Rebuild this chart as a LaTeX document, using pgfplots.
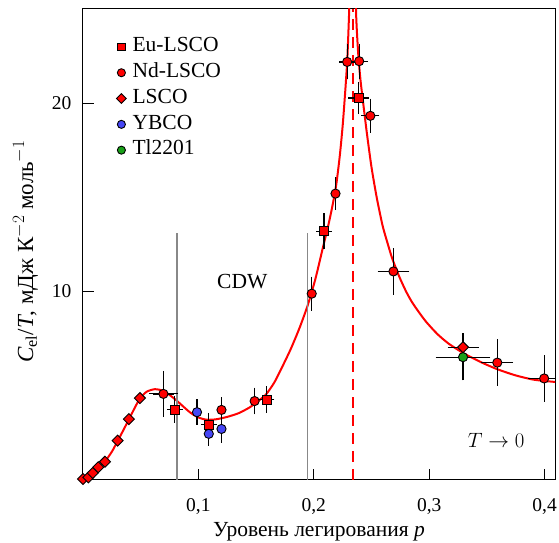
\documentclass[border=0pt]{standalone}
\usepackage{fontspec}
\setmainfont{Liberation Serif}
\usepackage{pgfplots}
\pgfplotsset{compat=1.18}
\definecolor{myred}{RGB}{255,0,0}
\definecolor{myblue}{RGB}{70,70,245}
\definecolor{mygreen}{RGB}{25,160,25}
\definecolor{mygray}{RGB}{136,136,136}

% Eu-LSCO: x y ex ey
\pgfplotstableread{
x y ex ey
0.0795 3.74 0.003 0.47
0.109 2.93 0.003 0.40
0.159 4.27 0.003 0.48
0.2089 13.2 0.003 0.72
0.2387 20.28 0.005 0.63
}\eulsco
% Nd-LSCO
\pgfplotstableread{
x y ex ey
0.0697 4.57 0.009 1.0
0.12 3.72 0.0 0.45
0.1487 4.19 0.0 0.48
0.1982 9.89 0.0 0.68
0.2188 15.2 0.0 0.65
0.2289 22.19 0.003 0.70
0.2393 22.23 0.004 0.70
0.249 19.33 0.004 0.68
0.269 11.07 0.010 1.0
0.359 6.23 0.010 1.0
0.3996 5.39 0.010 1.0
}\ndlsco
% LSCO
\pgfplotstableread{
x y
0.0 0.05
0.0046 0.14
0.0084 0.37
0.0132 0.68
0.019 0.97
0.030 2.09
0.0398 3.23
0.0493 4.35
}\lsco
\pgfplotstableread{
x y ex ey
0.3293 7.05 0.0097 0.5
}\lscoe
% YBCO
\pgfplotstableread{
x y ex ey
0.0988 3.6 0 0.45
0.109 2.45 0 0.40
0.12 2.71 0 0.50
}\ybco
% Tl2201
\pgfplotstableread{
x y ex ey
0.3293 6.52 0.02 1.0
}\tl

\pgfplotsset{
  errs/.style={error bars/x dir=both, error bars/x explicit,
    error bars/y dir=both, error bars/y explicit,
    error bars/error bar style={black, line width=1.2pt},
    error bars/error mark options={black, line width=1.2pt, mark size=4.3pt}},
}
\newcommand{\bigf}{\fontsize{21.5}{25}\selectfont}

\begin{document}
\begin{tikzpicture}
\begin{axis}[
  width=472pt, height=471pt, scale only axis,
  xmin=0, xmax=0.409, ymin=0, ymax=25,
  axis line style={line width=1pt},
  tick style={black, line width=1pt},
  tick align=inside, tick pos=left,
  major tick length=11pt,
  xtick={0.1,0.2,0.3,0.4}, xticklabels={{0,1},{0,2},{0,3},{0,4}},
  ytick={10,20}, yticklabels={10,20},
  ticklabel style={font=\fontsize{19.5}{23}\selectfont},
  xticklabel style={anchor=base, yshift=-31pt},
  yticklabel style={xshift=-8pt},
  xlabel={Уровень легирования \textit{p}},
  xlabel style={font=\bigf, at={(rel axis cs:0.5,-0.12)}, anchor=base},
  ylabel={\textit{C}\textsubscript{el}/\textit{T}, мДж К$^{-2}$ моль$^{-1}$},
  ylabel style={font=\fontsize{23}{27}\selectfont, at={(rel axis cs:-0.122,0.485)}, anchor=center},
  legend cell align=left,
  legend image code/.code={\draw[#1, every mark/.append style={scale=0.88}] plot coordinates {(5pt,0pt)}; \path (0pt,0pt) (15pt,0pt);},
  legend style={draw=none, fill=none, at={(rel axis cs:0,1)}, anchor=north west,
    xshift=33pt, yshift=-28pt, row sep=6.3pt, inner sep=0pt,
    font=\bigf,
    nodes={inner sep=1pt, text height=13.5pt, text depth=4pt}},
]
% curve left branch
\addplot[myred, line width=2pt, smooth, tension=0.4, forget plot] coordinates {
(0,0.03)(0.0046,0.15)(0.0084,0.37)(0.0132,0.66)(0.019,0.98)(0.025,1.5)
(0.030,2.07)(0.035,2.65)(0.0398,3.22)(0.045,3.85)(0.0493,4.32)(0.055,4.68)
(0.0622,4.82)(0.07,4.72)(0.0795,4.3)(0.0925,3.6)(0.1,3.32)(0.107,3.2)
(0.115,3.22)(0.125,3.35)(0.135,3.55)(0.1443,3.85)(0.152,4.2)(0.1587,4.55)
(0.166,5.2)(0.173,6.05)(0.18,6.95)(0.1875,8.05)(0.1947,9.27)(0.2015,10.7)
(0.2077,12.29)(0.2125,13.5)(0.2163,14.6)(0.2195,15.7)(0.2225,17.2)
(0.225,18.8)(0.2272,20.6)(0.229,22.3)(0.2303,24.3)(0.2315,26.5)};
% curve right branch
\addplot[myred, line width=2pt, smooth, tension=0.4, forget plot] coordinates {
(0.2358,27)(0.2368,24.5)(0.2385,22.6)(0.2405,21.2)(0.243,19.9)(0.246,18.4)
(0.25,16.6)(0.2545,15.0)(0.2596,13.5)(0.264,12.55)(0.268,11.75)(0.274,10.8)
(0.28,10.0)(0.285,9.45)(0.29,9.0)(0.297,8.42)(0.307,7.75)(0.317,7.23)
(0.33,6.72)(0.345,6.25)(0.359,5.88)(0.375,5.55)(0.391,5.32)(0.41,5.2)};
% CDW boundaries
\addplot[mygray, line width=1.5pt, forget plot] coordinates {(0.0816,0)(0.0816,13.1)};
\addplot[mygray, line width=1.5pt, forget plot] coordinates {(0.1944,0)(0.1944,13.1)};
% critical point
\addplot[myred, line width=2pt, dash pattern=on 11pt off 7pt, forget plot] coordinates {(0.2337,0)(0.2337,25)};

% Eu-LSCO
\addplot[only marks, mark=square*, mark size=4.5pt,
  mark options={draw=black, fill=myred, line width=0.9pt}, errs]
  table[x=x, y=y, x error=ex, y error=ey] {\eulsco};
\addlegendentry{Eu-LSCO}
% Nd-LSCO
\addplot[only marks, mark=*, mark size=4.6pt,
  mark options={draw=black, fill=myred, line width=0.9pt}, errs]
  table[x=x, y=y, x error=ex, y error=ey] {\ndlsco};
\addlegendentry{Nd-LSCO}
% LSCO
\addplot[only marks, mark=square*, mark size=3.9pt,
  mark options={draw=black, fill=myred, line width=0.9pt, rotate=45}]
  table[x=x, y=y] {\lsco};
\addlegendentry{LSCO}
\addplot[only marks, forget plot, mark=square*, mark size=3.9pt,
  mark options={draw=black, fill=myred, line width=0.9pt, rotate=45}, errs]
  table[x=x, y=y, x error=ex, y error=ey] {\lscoe};
% YBCO
\addplot[only marks, mark=*, mark size=4.6pt,
  mark options={draw=black, fill=myblue, line width=0.9pt}, errs]
  table[x=x, y=y, x error=ex, y error=ey] {\ybco};
\addlegendentry{YBCO}
% Tl2201
\addplot[only marks, mark=*, mark size=4.6pt,
  mark options={draw=black, fill=mygreen, line width=0.9pt}, errs]
  table[x=x, y=y, x error=ex, y error=ey] {\tl};
\addlegendentry{Tl2201}

\node[font=\bigf] at (axis cs:0.138,10.56) {CDW};
\node[font=\bigf] at (axis cs:0.358,2.12) {$T\to0$};
\node[font=\fontsize{19.5}{23}\selectfont, anchor=base] at (rel axis cs:0,0) [xshift=-18pt, yshift=-31pt] {0};
\end{axis}
\pgfresetboundingbox
\path ([xshift=-83pt,yshift=-62.5pt]current axis.south west) rectangle ([xshift=4pt,yshift=9pt]current axis.north east);
\end{tikzpicture}
\end{document}
